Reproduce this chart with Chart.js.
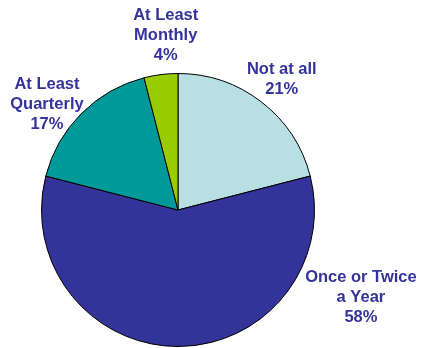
<!DOCTYPE html>
<html>
<head>
<meta charset="utf-8">
<script src="https://cdn.jsdelivr.net/npm/chart.js@4"></script>
<style>
  html, body { margin: 0; padding: 0; background: #fff; }
  #chart { display: block; width: 424px; height: 348px; }
</style>
</head>
<body>
<canvas id="chart" width="424" height="348"></canvas>
<script>
/* Pie — how often, share of respondents */

const categories = [
  ['Not at all'],
  ['Once or Twice', 'a Year'],
  ['At Least', 'Quarterly'],
  ['At Least', 'Monthly'],
];
const values = [21, 58, 17, 4];
const colors = ['#b8e0e2', '#333399', '#009999', '#99cc00'];

// label block centre, in units of the pie radius from the pie centre
const labelOffsets = [
  [0.76, -0.96],
  [1.34, 0.64],
  [-0.96, -0.77],
  [-0.09, -1.28],
];

const labelPlugin = {
  id: 'sliceLabels',
  afterDraw(chart) {
    const ctx = chart.ctx;
    const meta = chart.getDatasetMeta(0);
    const lineH = 20;
    ctx.save();
    ctx.font = 'bold 16.5px "Liberation Sans", Arial, sans-serif';
    ctx.fillStyle = '#333399';
    ctx.textAlign = 'center';
    ctx.textBaseline = 'middle';
    meta.data.forEach((arc, i) => {
      const r = arc.outerRadius;
      const cx = arc.x + labelOffsets[i][0] * r;
      const cy = arc.y + labelOffsets[i][1] * r;
      const lines = categories[i].concat([values[i] + '%']);
      const top = cy - (lines.length - 1) * lineH / 2;
      lines.forEach((t, k) => ctx.fillText(t, cx, top + k * lineH));
    });
    ctx.restore();
  },
};

new Chart(document.getElementById('chart'), {
  type: 'pie',
  data: {
    labels: categories.map(c => c.join(' ')),
    datasets: [{
      data: values,
      backgroundColor: colors,
      borderColor: '#000',
      borderWidth: 1,
    }],
  },
  options: {
    responsive: false,
    animation: false,
    layout: { padding: { left: 41, right: 109, top: 73, bottom: 1 } },
    plugins: {
      legend: { display: false },
      tooltip: { enabled: false },
    },
  },
  plugins: [labelPlugin],
});
</script>
</body>
</html>
